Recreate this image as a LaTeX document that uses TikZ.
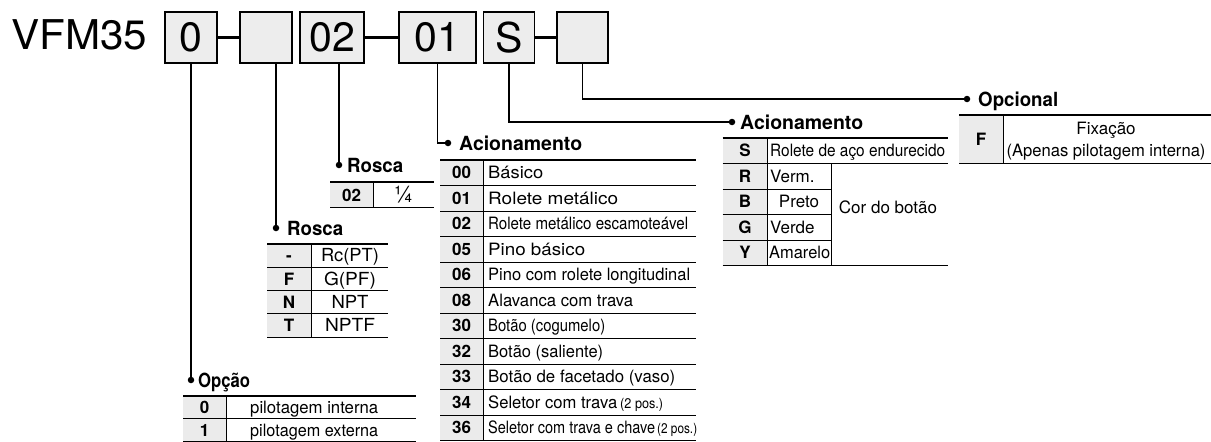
\documentclass[tikz,border=0pt]{standalone}
\usepackage{fontspec}
\setmainfont{TeX Gyre Heros}
\usepackage{graphicx}
\definecolor{boxgray}{HTML}{EDEDED}
\definecolor{codegray}{HTML}{EBEBEB}
\newcommand\fs[1]{\fontsize{#1}{#1}\selectfont}
\newcommand\fw[2]{\resizebox{#1pt}{\height}{#2}}
\tikzset{
 pbox/.style={draw, line width=1.7pt, fill=boxgray, inner sep=0pt, minimum height=51pt, font=\fs{41}},
 conn/.style={line width=1.8pt},
 linkbar/.style={line width=2.6pt},
 dotn/.style={circle, fill=black, inner sep=0pt, minimum size=6.5pt},
 ttl/.style={anchor=base west, inner sep=0pt, font=\bfseries\fs{19.5}},
 code/.style={anchor=base, inner sep=0pt, font=\bfseries\fs{17}},
 txt/.style={anchor=base west, inner sep=0pt, font=\fs{17}},
 txtc/.style={anchor=base, inner sep=0pt, font=\fs{17}},
 rowrule/.style={line width=0.9pt},
 toprule/.style={line width=2.4pt},
}
\begin{document}
\begin{tikzpicture}[x=1pt,y=-1pt]
\useasboundingbox (0,0) rectangle (1211,442);
% ---- part number boxes
\node[anchor=base west, inner sep=0pt, font=\fs{41}] (lbl) at (11,49) {\fw{136}{VFM35}};
\node[pbox, minimum width=52pt] (b0) at (191,37.5) {0};
\node[pbox, minimum width=52pt] (b1) at (266,37.5) {};
\node[pbox, minimum width=64pt] (b2) at (332,37.5) {02};
\node[pbox, minimum width=77pt] (b3) at (437.5,37.5) {01};
\node[pbox, minimum width=51pt] (b4) at (509,37.5) {S};
\node[pbox, minimum width=51pt] (b5) at (582.5,37.5) {};
\draw[linkbar] (b0.east) -- (b1.west);
\draw[linkbar] (b2.east) -- (b3.west);
\draw[linkbar] (b4.east) -- (b5.west);
% ---- dots and titles
\node[dotn] (d0) at (191,380) {};
\node[dotn] (d1) at (276,228) {};
\node[dotn] (d2) at (339,165) {};
\node[dotn] (d3) at (448,143) {};
\node[dotn] (d4) at (732,122) {};
\node[dotn] (d5) at (967,99) {};
\draw[conn] (b0.south -| d0) -- (d0);
\draw[conn] (b1.south -| d1) -- (d1);
\draw[conn] (b2.south -| d2) -- (d2);
\draw[conn] (b3.south) |- (d3);
\draw[conn] (b4.south) |- (d4);
\draw[conn] (b5.south) |- (d5);
\node[ttl] (t0) at (198,387) {\fw{52}{Opção}};
\node[ttl] (t1) at (287,235) {\fw{56}{Rosca}};
\node[ttl] (t2) at (347,172) {\fw{56}{Rosca}};
\node[ttl] (t3) at (459,150) {\fw{123}{Acionamento}};
\node[ttl] (t4) at (740,129) {\fw{123}{Acionamento}};
\node[ttl] (t5) at (978,106) {\fw{80}{Opcional}};
% ---- Opção table
\fill[codegray] (183,396) rectangle (226,441);
\draw[toprule] (183,396) -- (416,396);
\draw[rowrule] (183,418.5) -- (416,418.5);
\draw[rowrule] (183,441) -- (416,441);
\draw[rowrule] (226,396) -- (226,441);
\node[code] (o0c) at (204.5,413) {0};
\node[txt] (o0t) at (250,413) {\fw{128}{pilotagem interna}};
\node[code] (o1c) at (204.5,436) {1};
\node[txt] (o1t) at (250,436) {\fw{128}{pilotagem externa}};
% ---- Rosca (02) table
\fill[codegray] (330,182) rectangle (373,207.5);
\draw[toprule] (330,182) -- (434,182);
\draw[rowrule] (330,207.5) -- (434,207.5);
\draw[rowrule] (373,182) -- (373,207.5);
\node[code] (r1c) at (351.5,201) {02};
\node[txtc, font=\fs{23}] (r1t) at (403.5,202) {¼};
% ---- Rosca table
\fill[codegray] (267,244) rectangle (311.5,337.2);
\draw[toprule] (267,244) -- (388,244);
\foreach \yy in {267.3,290.6,313.9,337.2} \draw[rowrule] (267,\yy) -- (388,\yy);
\draw[rowrule] (311.5,244) -- (311.5,337.2);
\node[code] (r2c0) at (289,261.8) {-};
\node[txtc] (r2t0) at (350,261.8) {\fw{58}{\fs{18}Rc(PT)}};
\node[code] (r2c1) at (289,285.1) {F};
\node[txtc] (r2t1) at (350,285.1) {\fw{52}{\fs{18}G(PF)}};
\node[code] (r2c2) at (289,308.4) {N};
\node[txtc] (r2t2) at (350,308.4) {\fw{37}{\fs{18}NPT}};
\node[code] (r2c3) at (289,331.7) {T};
\node[txtc] (r2t3) at (350,331.7) {\fw{50}{\fs{18}NPTF}};
% ---- Acionamento table
\fill[codegray] (440,160) rectangle (483,440.5);
\draw[toprule] (440,160) -- (696,160);
\foreach \i in {1,...,11} \draw[rowrule] (440,160+25.5*\i) -- (696,160+25.5*\i);
\draw[rowrule] (483,160) -- (483,440.5);
\node[code] (a0c) at (461.5,178.75) {00};
\node[txt] (a0t) at (488,178.75) {\fw{55}{Básico}};
\node[code] (a1c) at (461.5,204.25) {01};
\node[txt] (a1t) at (488,204.25) {\fw{130}{Rolete metálico}};
\node[code] (a2c) at (461.5,229.75) {02};
\node[txt] (a2t) at (488,229.75) {\fw{200}{Rolete metálico escamoteável}};
\node[code] (a3c) at (461.5,255.25) {05};
\node[txt] (a3t) at (488,255.25) {\fw{97}{Pino básico}};
\node[code] (a4c) at (461.5,280.75) {06};
\node[txt] (a4t) at (488,280.75) {\fw{202}{Pino com rolete longitudinal}};
\node[code] (a5c) at (461.5,306.25) {08};
\node[txt] (a5t) at (488,306.25) {\fw{145}{Alavanca com trava}};
\node[code] (a6c) at (461.5,331.75) {30};
\node[txt] (a6t) at (488,331.75) {\fw{117}{Botão (cogumelo)}};
\node[code] (a7c) at (461.5,357.25) {32};
\node[txt] (a7t) at (488,357.25) {\fw{115}{Botão (saliente)}};
\node[code] (a8c) at (461.5,382.75) {33};
\node[txt] (a8t) at (488,382.75) {\fw{187}{Botão de facetado (vaso)}};
\node[code] (a9c) at (461.5,408.25) {34};
\node[txt] (a9t) at (488,408.25) {\fw{129}{Seletor com trava}\hspace{3pt}\fw{43}{\fs{14}(2 pos.)}};
\node[code] (a10c) at (461.5,433.75) {36};
\node[txt] (a10t) at (488,433.75) {\fw{167}{Seletor com trava e chave}\hspace{2pt}\fw{40}{\fs{14}(2 pos.)}};
% ---- Acionamento (S) table
\fill[codegray] (722.7,138) rectangle (767,265.5);
\draw[toprule] (722.7,138) -- (948,138);
\draw[rowrule] (722.7,163.5) -- (948,163.5);
\foreach \yy in {189,214.5,240} \draw[rowrule] (722.7,\yy) -- (831,\yy);
\draw[rowrule] (722.7,265.5) -- (948,265.5);
\draw[rowrule] (767,138) -- (767,265.5);
\draw[rowrule] (831,163.5) -- (831,265.5);
\node[code] (s0c) at (745,156.75) {S};
\node[txt] (s0t) at (770,156.75) {\fw{175}{Rolete de aço endurecido}};
\node[code] (s1c) at (745,182.25) {R};
\node[txt] (s1t) at (770,182.25) {Verm.};
\node[code] (s2c) at (745,207.75) {B};
\node[txtc] (s2t) at (799,207.75) {Preto};
\node[code] (s3c) at (745,233.25) {G};
\node[txt] (s3t) at (770,233.25) {Verde};
\node[code] (s4c) at (745,258.75) {Y};
\node[txt] (s4t) at (769,258.75) {\fw{61}{Amarelo}};
\node[txtc] (cor) at (888,213) {Cor do botão};
% ---- Opcional table
\fill[codegray] (959,115) rectangle (1003,163);
\draw[toprule] (959,115) -- (1211,115);
\draw[rowrule] (959,163) -- (1211,163);
\draw[rowrule] (1003,115) -- (1003,163);
\node[code] (f0c) at (981,145) {F};
\node[txtc] (f0t) at (1106,134) {Fixação};
\node[txtc] (f0u) at (1106,156) {\fw{199}{(Apenas pilotagem interna)}};
\end{tikzpicture}
\end{document}
